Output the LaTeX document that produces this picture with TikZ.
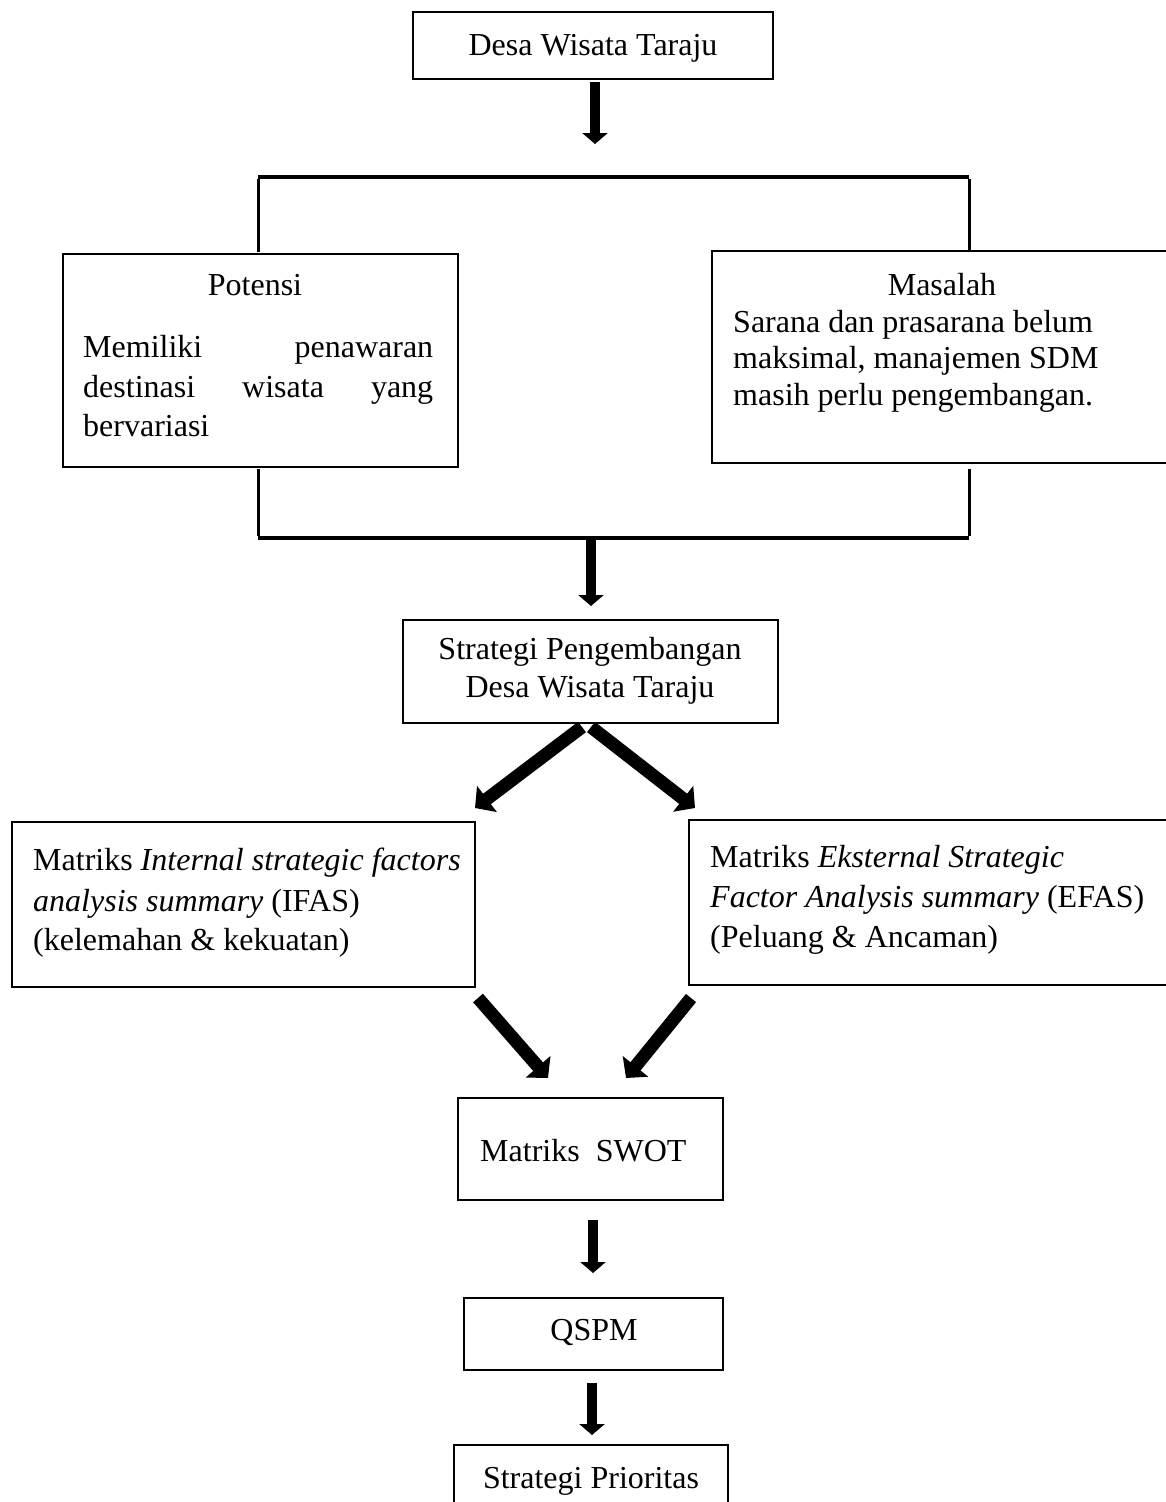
\documentclass[tikz,border=0pt]{standalone}
\usepackage{fontspec}
\setmainfont{Liberation Serif}
\usetikzlibrary{arrows.meta}
\begin{document}
\begin{tikzpicture}[x=1pt,y=-1pt,
  box/.style={draw=black, line width=2pt, inner sep=0pt, fill=none},
  txt/.style={inner sep=0pt, font=\fontsize{32}{37}\selectfont},
  vline/.style={line width=3pt},
  hline/.style={line width=4.5pt},
  varrow/.style={line width=10pt, -{Triangle[width=25pt,length=11pt]}},
  darrow/.style={line width=13pt, -{Triangle[width=32pt,length=15pt]}},
]
\useasboundingbox (0,0) rectangle (1166,1502);
\clip (0,0) rectangle (1166,1502);

% boxes
\node[box, minimum width=360pt, minimum height=67pt] (top) at (593,45.5) {};
\node[box, minimum width=395pt, minimum height=213pt] (potensi) at (260.5,360.5) {};
\node[box, minimum width=478pt, minimum height=212pt] (masalah) at (951,357) {};
\node[box, minimum width=375pt, minimum height=103pt] (strategi) at (590.5,671.5) {};
\node[box, minimum width=463pt, minimum height=165pt] (ifas) at (243.5,904.5) {};
\node[box, minimum width=501pt, minimum height=165pt] (efas) at (939.5,902.5) {};
\node[box, minimum width=265pt, minimum height=102pt] (swot) at (590.5,1149) {};
\node[box, minimum width=259pt, minimum height=72pt] (qspm) at (593.5,1334) {};
\node[box, minimum width=274pt, minimum height=85pt] (prior) at (591,1487.5) {};

% texts
\node[txt, anchor=base] (ttop) at (593,55) {Desa Wisata Taraju};
\node[txt, anchor=base] (tpot) at (255,295) {Potensi};
\node[txt, anchor=base west] (tpot1) at (83,357) {\hbox to 350pt{Memiliki\hfill penawaran}};
\node[txt, anchor=base west] (tpot2) at (83,397) {\hbox to 350pt{destinasi\hfill wisata\hfill yang}};
\node[txt, anchor=base west] (tpot3) at (83,436) {bervariasi};
\node[txt, anchor=base] (tmas) at (942,295) {Masalah};
\node[txt, anchor=base west] (tmas1) at (733,332) {Sarana dan prasarana belum};
\node[txt, anchor=base west] (tmas2) at (733,368) {maksimal, manajemen SDM};
\node[txt, anchor=base west] (tmas3) at (733,405) {masih perlu pengembangan.};
\node[txt, anchor=base] (tstr1) at (590,659) {Strategi Pengembangan};
\node[txt, anchor=base] (tstr2) at (590,697) {Desa Wisata Taraju};
\node[txt, anchor=base west] (tif1) at (33,870) {Matriks \textit{Internal strategic factors}};
\node[txt, anchor=base west] (tif2) at (33,911) {\textit{analysis summary} (IFAS)};
\node[txt, anchor=base west] (tif3) at (33,950) {(kelemahan \& kekuatan)};
\node[txt, anchor=base west] (tef1) at (710,867) {Matriks \textit{Eksternal Strategic}};
\node[txt, anchor=base west] (tef2) at (710,907) {\textit{Factor Analysis summary} (EFAS)};
\node[txt, anchor=base west] (tef3) at (710,947) {(Peluang \& Ancaman)};
\node[txt, anchor=base west] (tswot) at (480,1161) {Matriks\ \ SWOT};
\node[txt, anchor=base] (tqspm) at (594,1340) {QSPM};
\node[txt, anchor=base] (tprior) at (591,1488) {Strategi Prioritas};

% bracket coordinates
\coordinate (bl1) at (258,252);
\coordinate (bl2) at (258,177);
\coordinate (br2) at (969,177);
\coordinate (br1) at (969,250);
\coordinate (cl1) at (258,469);
\coordinate (cl2) at (258,538);
\coordinate (cr2) at (969,538);
\coordinate (cr1) at (969,469);

\draw[vline] (bl1) -- ([yshift=-2pt]bl2);
\draw[vline] (br1) -- ([yshift=-2pt]br2);
\draw[hline] (bl2) -- (br2);
\draw[vline] (cl1) -- ([yshift=2pt]cl2);
\draw[vline] (cr1) -- ([yshift=2pt]cr2);
\draw[hline] (cl2) -- (cr2);

% arrow coordinates
\coordinate (a1s) at (595,82);
\coordinate (a1e) at (595,144);
\coordinate (a2s) at (591,540);
\coordinate (a2e) at (591,606);
\coordinate (dls) at (582,727);
\coordinate (dle) at (475,808);
\coordinate (drs) at (591,727);
\coordinate (dre) at (695,808);
\coordinate (cls) at (478,998);
\coordinate (cle) at (548,1078);
\coordinate (crs) at (691,998);
\coordinate (cre) at (626,1078);
\coordinate (a3s) at (593,1220);
\coordinate (a3e) at (593,1273);
\coordinate (a4s) at (592,1383);
\coordinate (a4e) at (592,1435);

\draw[varrow] (a1s) -- (a1e);
\draw[varrow] (a2s) -- (a2e);
\draw[darrow] (dls) -- (dle);
\draw[darrow] (drs) -- (dre);
\draw[darrow] (cls) -- (cle);
\draw[darrow] (crs) -- (cre);
\draw[varrow] (a3s) -- (a3e);
\draw[varrow] (a4s) -- (a4e);
\end{tikzpicture}
\end{document}
